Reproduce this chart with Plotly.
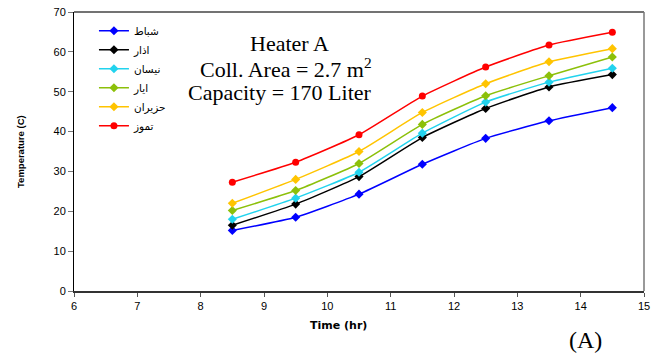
import plotly.graph_objects as go

time_hr = [8.5, 9.5, 10.5, 11.5, 12.5, 13.5, 14.5]
series_names = ["شباط", "اذار", "نيسان", "ايار", "حزيران", "تموز"]
feb = [15.2, 18.5, 24.3, 31.8, 38.3, 42.7, 46.0]
mar = [16.5, 21.8, 28.7, 38.5, 45.8, 51.2, 54.3]
apr = [18.0, 23.3, 29.8, 39.6, 47.4, 52.4, 55.9]
may = [20.2, 25.2, 32.0, 41.8, 49.0, 54.0, 58.7]
jun = [22.0, 28.0, 35.0, 44.8, 52.0, 57.5, 60.8]
jul = [27.3, 32.3, 39.2, 48.9, 56.2, 61.7, 64.9]
series_values = [feb, mar, apr, may, jun, jul]
colors = ["#0000FF", "#000000", "#22D3EE", "#8CC00A", "#FFC400", "#FF0000"]
symbols = ["diamond", "diamond", "diamond", "diamond", "diamond", "circle"]

fig = go.Figure()
for name, vals, c, s in zip(series_names, series_values, colors, symbols):
    fig.add_trace(go.Scatter(
        x=time_hr, y=vals, name=name, mode="lines+markers",
        line=dict(color=c, width=1.5, shape="spline", smoothing=0.5),
        marker=dict(color=c, symbol=s, size=7),
    ))

def px_x(p):
    return (p - 74) / 570

def px_y(p):
    return (291 - p) / 279

info_lines = ["Heater A", "Coll. Area = 2.7 m<sup>2</sup>", "Capacity = 170 Liter"]
info_pos = [(289, 44), (286, 68), (280, 92)]

annotations = []
for txt, (ax, ay) in zip(info_lines, info_pos):
    annotations.append(dict(text=txt, xref="paper", yref="paper",
                            x=px_x(ax), y=px_y(ay), xanchor="center", yanchor="middle",
                            showarrow=False,
                            font=dict(family="Liberation Serif", size=22, color="black")))
annotations += [
    dict(text="<b>Time (hr)</b>", xref="paper", yref="paper",
         x=px_x(338), y=px_y(325), xanchor="center", yanchor="middle",
         showarrow=False, font=dict(size=11, family="DejaVu Sans")),
    dict(text="<b>Temperature (C)</b>", xref="paper", yref="paper",
         x=px_x(20), y=px_y(152), xanchor="center", yanchor="middle",
         textangle=-90, showarrow=False, font=dict(size=9.5, family="Liberation Sans")),
    dict(text="(A)", xref="paper", yref="paper",
         x=px_x(585), y=px_y(340), xanchor="center", yanchor="middle",
         showarrow=False, font=dict(size=24, family="Liberation Serif")),
]

fig.update_layout(
    width=652, height=357,
    margin=dict(l=74, r=8, t=12, b=66, autoexpand=False),
    paper_bgcolor="white", plot_bgcolor="white",
    font=dict(family="Liberation Sans, Arial", size=11, color="black"),
    showlegend=True,
    legend=dict(x=0.035, y=0.985, xanchor="left", yanchor="top",
                bgcolor="rgba(0,0,0,0)", font=dict(size=10.5, family="DejaVu Sans"),
                tracegroupgap=0, itemwidth=30),
    xaxis=dict(range=[6, 15], dtick=1, tick0=6, showgrid=False, zeroline=False,
               showline=True, linecolor="#333333", linewidth=2, automargin=False,
               ticks="outside", ticklen=4, tickcolor="#555555",
               tickfont=dict(size=11)),
    yaxis=dict(range=[0, 70], dtick=10, showgrid=False, zeroline=False,
               showline=True, linecolor="#000000", linewidth=1, automargin=False,
               ticks="outside", ticklen=5, tickcolor="#777777",
               tickfont=dict(size=11)),
    shapes=[
        dict(type="line", xref="paper", yref="paper", x0=0, x1=1, y0=1, y1=1,
             line=dict(color="#444444", width=1.5)),
        dict(type="line", xref="paper", yref="paper", x0=1, x1=1, y0=0, y1=1,
             line=dict(color="#777777", width=1.5)),
    ],
    annotations=annotations,
)

fig.write_html("out.html")
